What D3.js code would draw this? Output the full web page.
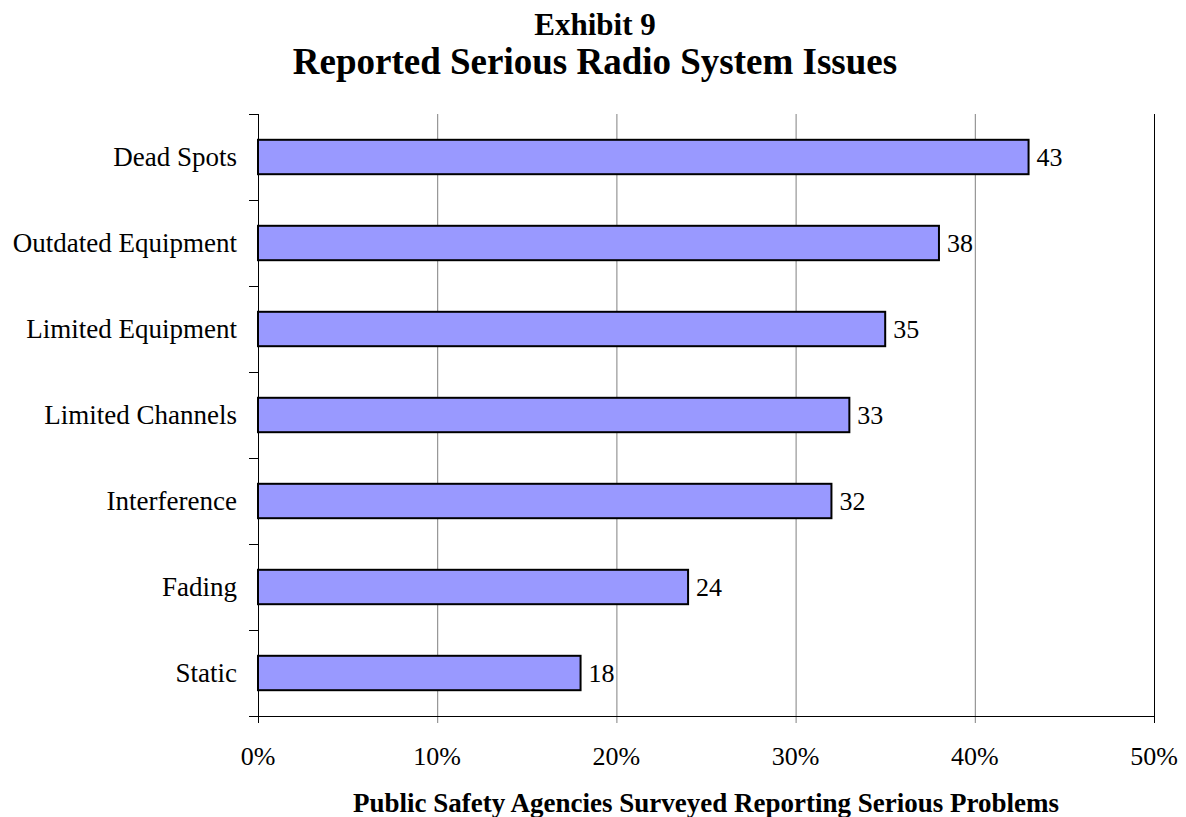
<!DOCTYPE html>
<html>
<head>
<meta charset="utf-8">
<script src="https://cdn.jsdelivr.net/npm/d3@7"></script>
<style>
  body { margin: 0; background: #fff; }
  text { font-family: "Liberation Serif", "Times New Roman", serif; fill: #000; }
</style>
</head>
<body>
<svg id="chart" width="1186" height="817"></svg>
<script>
// chart data, top to bottom
var categories = ["Dead Spots","Outdated Equipment","Limited Equipment","Limited Channels","Interference","Fading","Static"];
var values = [43,38,35,33,32,24,18];
var xTicks = [0,10,20,30,40,50];

var svg = d3.select("#chart");

// plot area (pixels) -- not called "top", that one belongs to window
var plotL = 258, plotR = 1154, plotT = 114, plotB = 716;

var x = d3.scaleLinear().domain([0,50]).range([plotL,plotR]);
var y = d3.scaleBand().domain(categories).range([plotT,plotB])
	.paddingInner(0.6).paddingOuter(0.3);

// titles
svg.append("text")
	.attr("x",595).attr("y",35)
	.attr("text-anchor","middle")
	.style("font-size","31px").style("font-weight","bold")
	.text("Exhibit 9");
svg.append("text")
	.attr("x",595).attr("y",74)
	.attr("text-anchor","middle")
	.style("font-size","37px").style("font-weight","bold")
	.text("Reported Serious Radio System Issues");

// vertical gridlines (the 50% one doubles as the right border)
svg.selectAll("line.grid").data(xTicks.slice(1))
	.enter().append("line")
	.attr("class","grid")
	.attr("x1",d => x(d)+0.5).attr("x2",d => x(d)+0.5)
	.attr("y1",plotT).attr("y2",plotB+7)
	.style("stroke",d => d==50 ? "#000" : "#808080")
	.style("stroke-width",1);

// bars
svg.selectAll("rect.bar").data(values)
	.enter().append("rect")
	.attr("class","bar")
	.attr("x",x(0))
	.attr("y",(d,i) => y(categories[i]))
	.attr("width",d => x(d)-x(0))
	.attr("height",y.bandwidth())
	.style("fill","#9999ff")
	.style("stroke","#000")
	.style("stroke-width",2);

// value labels
svg.selectAll("text.val").data(values)
	.enter().append("text")
	.attr("class","val")
	.attr("x",d => x(d)+8)
	.attr("y",(d,i) => y(categories[i])+y.bandwidth()/2+9)
	.style("font-size","26px")
	.text(d => d);

// y axis: line, ticks between categories, labels
var yTicks = d3.range(categories.length+1).map(i => plotT + i*y.step());
svg.append("line")
	.attr("x1",plotL+0.5).attr("x2",plotL+0.5)
	.attr("y1",plotT).attr("y2",plotB+7)
	.style("stroke","#000");
svg.selectAll("line.ytick").data(yTicks)
	.enter().append("line")
	.attr("class","ytick")
	.attr("x1",plotL-9).attr("x2",plotL)
	.attr("y1",d => d+0.5).attr("y2",d => d+0.5)
	.style("stroke","#000");
svg.selectAll("text.cat").data(categories)
	.enter().append("text")
	.attr("class","cat")
	.attr("x",237)
	.attr("y",d => y(d)+y.bandwidth()/2+9)
	.attr("text-anchor","end")
	.style("font-size","27px")
	.text(d => d);

// x axis
svg.append("line")
	.attr("x1",plotL-9).attr("x2",plotR)
	.attr("y1",plotB+0.5).attr("y2",plotB+0.5)
	.style("stroke","#000");
svg.selectAll("text.xtick").data(xTicks)
	.enter().append("text")
	.attr("class","xtick")
	.attr("x",d => x(d))
	.attr("y",765)
	.attr("text-anchor","middle")
	.style("font-size","26px")
	.text(d => d+"%");
svg.append("text")
	.attr("x",(plotL+plotR)/2).attr("y",812)
	.attr("text-anchor","middle")
	.style("font-size","27px").style("font-weight","bold")
	.text("Public Safety Agencies Surveyed Reporting Serious Problems");
</script>
</body>
</html>
